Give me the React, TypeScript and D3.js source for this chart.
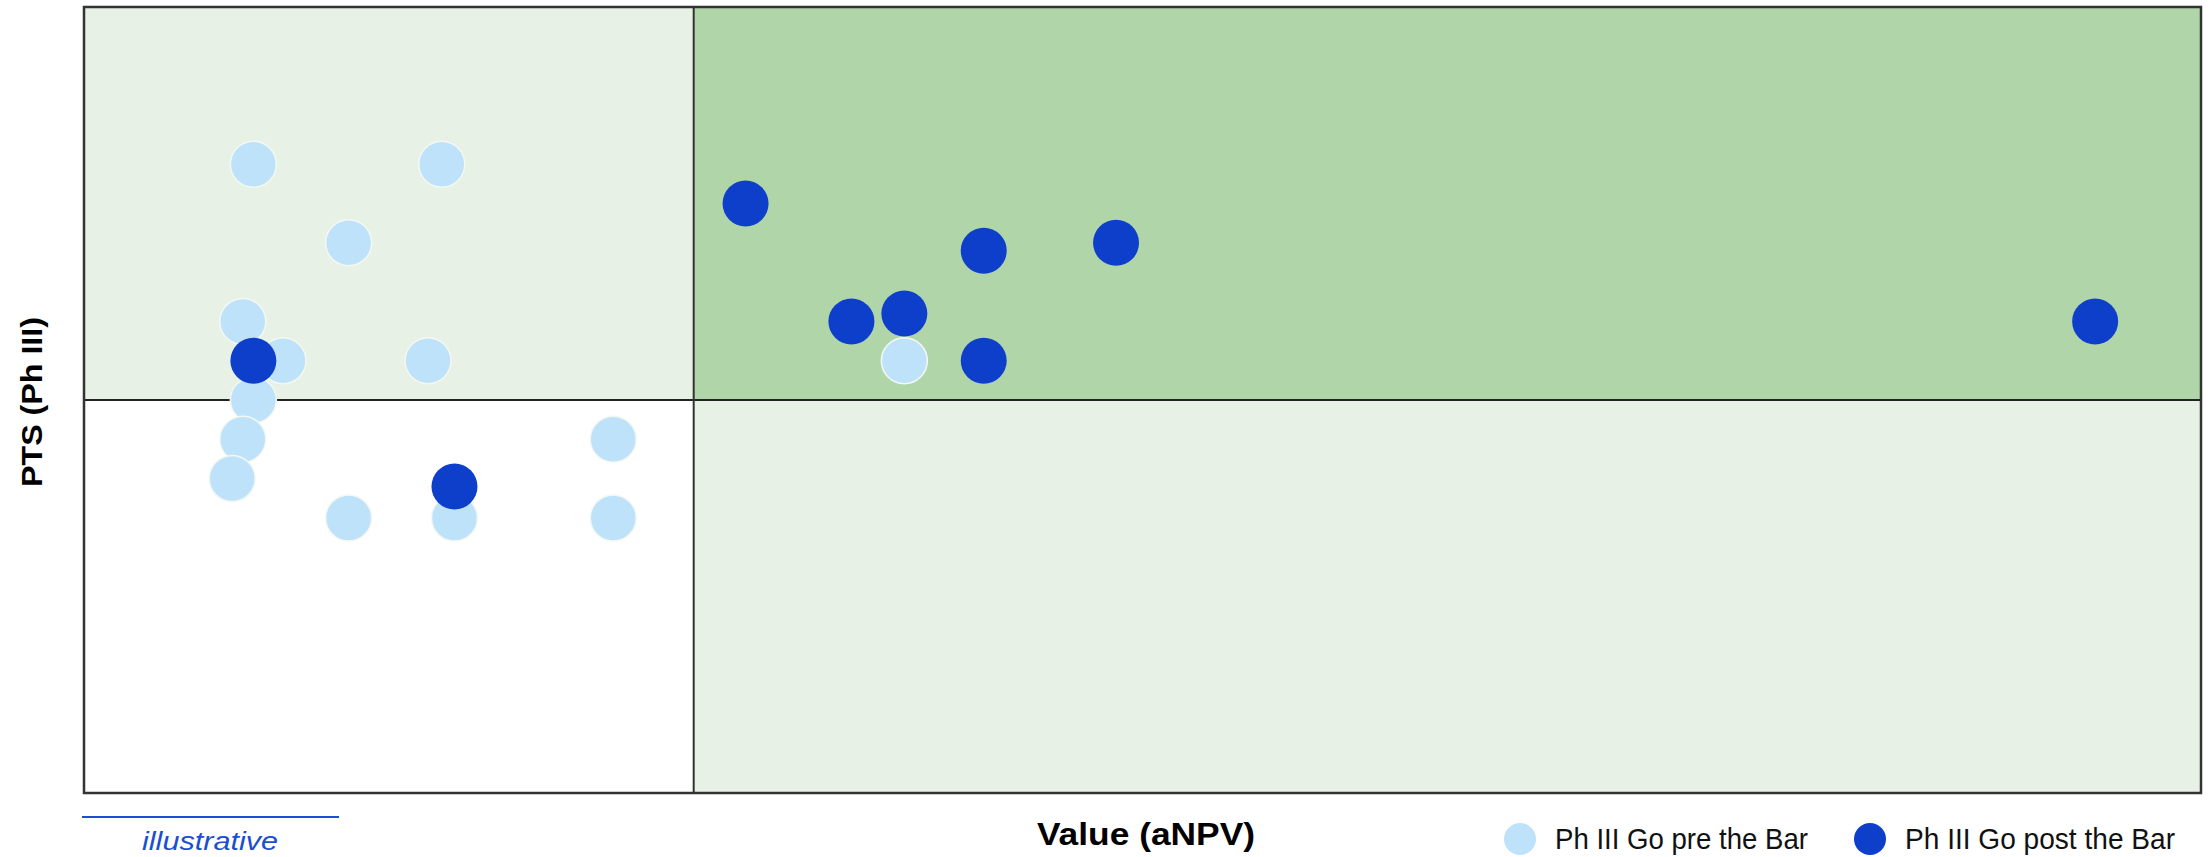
import React from "react";
import * as d3 from "d3";

// Data: Value (aNPV) on x, PTS (Ph III) on y (illustrative units)
const preBarX = [8, 16.9, 12.5, 7.5, 9.4, 16.25, 8, 7.5, 7, 12.5, 17.5, 25, 25, 38.75];
const preBarY = [80, 80, 70, 60, 55, 55, 50, 45, 40, 35, 35, 45, 35, 55];
const postBarX = [8, 17.5, 31.25, 36.25, 38.75, 42.5, 48.75, 42.5, 95];
const postBarY = [55, 39, 75, 60, 61, 69, 70, 55, 60];

const xThreshold = 28.8;
const yThreshold = 50;
const xDomain = [0, 100];
const yDomain = [0, 100];

const legendLabels = ["Ph III Go pre the Bar", "Ph III Go post the Bar"];
const xLabel = "Value (aNPV)";
const yLabel = "PTS (Ph III)";
const noteLabel = "illustrative";

const LIGHT = "#bfe2fb";
const DARK = "#0e3fcb";
const GREEN = "#b0d5a8";
const PALE = "#e7f1e5";

export default function App() {
  const W = 2211, H = 857;
  const left = 84, right = 2201, top = 7, bottom = 793;
  const x = d3.scaleLinear().domain(xDomain).range([left, right]);
  const y = d3.scaleLinear().domain(yDomain).range([bottom, top]);
  const xt = x(xThreshold), yt = y(yThreshold);
  const r = 23;
  const font = "'Liberation Sans', Arial, sans-serif";
  const pre = preBarX.map((v, i) => ({ x: v, y: preBarY[i] }));
  const post = postBarX.map((v, i) => ({ x: v, y: postBarY[i] }));
  return (
    <svg width={W} height={H} style={{ position: "absolute", left: 0, top: 0 }} fontFamily={font}>
      <rect x={0} y={0} width={W} height={H} fill="#fff" />
      {/* quadrants */}
      <rect x={left} y={top} width={xt - left} height={yt - top} fill={PALE} />
      <rect x={xt} y={top} width={right - xt} height={yt - top} fill={GREEN} />
      <rect x={xt} y={yt} width={right - xt} height={bottom - yt} fill={PALE} />
      <rect x={left} y={yt} width={xt - left} height={bottom - yt} fill="#fff" />
      <line x1={left} x2={right} y1={yt} y2={yt} stroke="#222" strokeWidth={2} />
      <line x1={xt} x2={xt} y1={top} y2={bottom} stroke="#333" strokeWidth={2} />
      <rect x={left} y={top} width={right - left} height={bottom - top} fill="none" stroke="#333" strokeWidth={2.5} />
      {pre.map((d, i) => (
        <circle key={"p" + i} cx={x(d.x)} cy={y(d.y)} r={r} fill={LIGHT} stroke="#f4f8f2" strokeWidth={1.5} />
      ))}
      {post.map((d, i) => (
        <circle key={"q" + i} cx={x(d.x)} cy={y(d.y)} r={r} fill={DARK} />
      ))}
      {/* axis labels */}
      <text x={0} y={0} transform={`translate(42,402) rotate(-90)`} textAnchor="middle" fontWeight="bold" fontSize={29} fill="#000" textLength={170} lengthAdjust="spacingAndGlyphs">
        {yLabel}
      </text>
      <text x={1146} y={845} textAnchor="middle" fontWeight="bold" fontSize={31} fill="#000" textLength={218} lengthAdjust="spacingAndGlyphs">
        {xLabel}
      </text>
      {/* illustrative */}
      <line x1={82} x2={339} y1={817} y2={817} stroke="#1a4fd0" strokeWidth={2} />
      <text x={142} y={850} fontStyle="italic" fontSize={26} fill="#1a4fd0" textLength={136} lengthAdjust="spacingAndGlyphs">
        {noteLabel}
      </text>
      {/* legend */}
      <circle cx={1520} cy={839} r={16} fill={LIGHT} />
      <text x={1555} y={849} fontSize={30} fill="#111" textLength={253} lengthAdjust="spacingAndGlyphs">
        {legendLabels[0]}
      </text>
      <circle cx={1870} cy={839} r={16} fill={DARK} />
      <text x={1905} y={849} fontSize={30} fill="#111" textLength={270} lengthAdjust="spacingAndGlyphs">
        {legendLabels[1]}
      </text>
    </svg>
  );
}
